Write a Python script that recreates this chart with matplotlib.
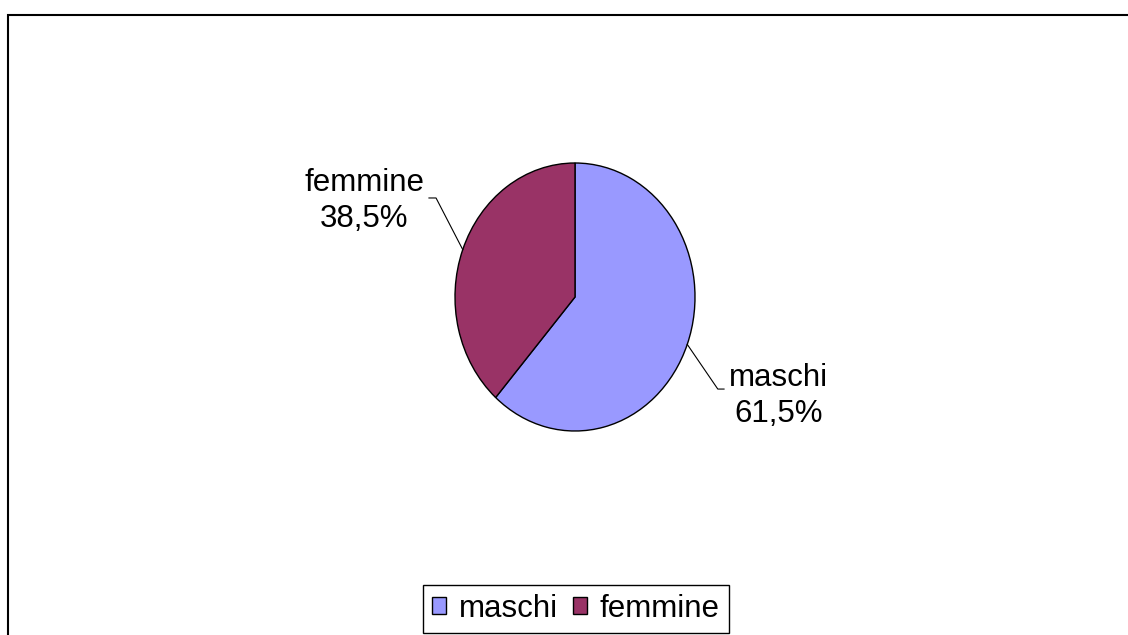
import numpy as np
import matplotlib
matplotlib.use("Agg")
import matplotlib.pyplot as plt
import matplotlib.patches as patches

plt.rcParams['font.family'] = ['Liberation Sans', 'DejaVu Sans']

labels = ["maschi", "femmine"]
values = [61.5, 38.5]
colors = ["#9999FF", "#993366"]

W, H = 1128, 635
fig = plt.figure(figsize=(W / 100, H / 100), dpi=100)

# pie box in pixels (the reference pie is a bit taller than wide)
cx, cy, rx, ry = 575, 297, 120, 134
ax = fig.add_axes([(cx - rx) / W, 1 - (cy + ry) / H, 2 * rx / W, 2 * ry / H])
wedges, _ = ax.pie(values, colors=colors, startangle=90, counterclock=False,
                   wedgeprops=dict(edgecolor="black", linewidth=1))
ax.set_xlim(-1, 1)
ax.set_ylim(-1, 1)
ax.set_aspect('auto')
ax.axis('off')

# label text centre and elbow of leader line, in axes data units
text_pos = [(1.70, -0.74), (-1.758, 0.715)]
elbow = [(1.19, -0.687), (-1.158, 0.739)]
tail = [(1.242, -0.687), (-1.217, 0.739)]

for w, lab, v, tp, el, tl in zip(wedges, labels, values, text_pos, elbow, tail):
    mid = np.deg2rad((w.theta1 + w.theta2) / 2)
    ex, ey = np.cos(mid), np.sin(mid)
    ax.plot([ex, el[0], tl[0]], [ey, el[1], tl[1]], color="black", lw=0.8, clip_on=False)
    ax.text(tp[0], tp[1], "%s\n%s%%" % (lab, ("%.1f" % v).replace(".", ",")),
            ha="center", va="center", fontsize=22.5, linespacing=1.25, clip_on=False)

leg = fig.legend(wedges, labels, loc="center", bbox_to_anchor=(576 / W, 1 - 609 / H),
                 ncol=2, fontsize=22.5, fancybox=False, framealpha=1, edgecolor="black",
                 handlelength=0.45, handleheight=0.45, handletextpad=0.4,
                 columnspacing=0.5, borderpad=0.3, borderaxespad=0)
leg.get_frame().set_linewidth(1)

# outer chart border (right and bottom sides run off the image)
fig.add_artist(patches.Rectangle((8 / W, -0.1), 1.2, 1.1 - 15 / H, transform=fig.transFigure,
                                 fill=False, edgecolor="black", linewidth=1.5))

fig.savefig("out.png", dpi=100)
